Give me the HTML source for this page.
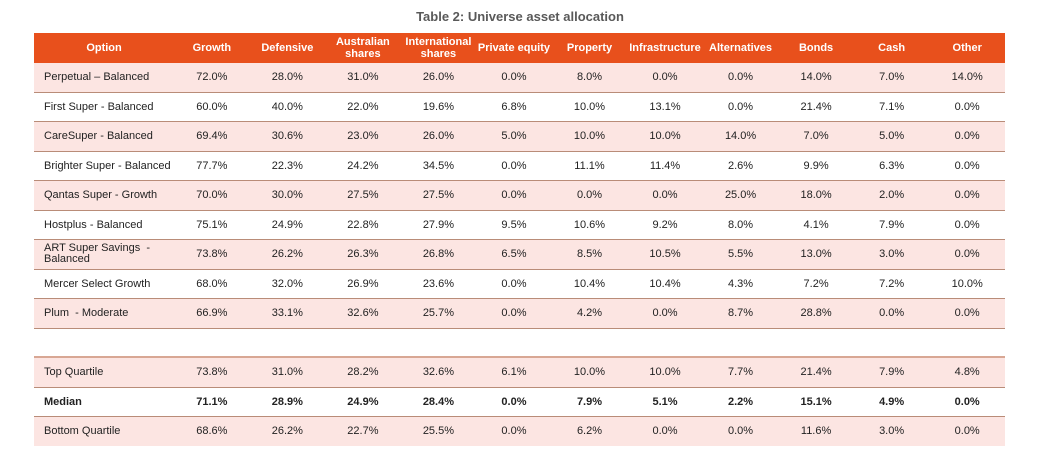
<!DOCTYPE html>
<html><head><style>
body{margin:0;width:1040px;height:463px;background:#fff;font-family:"Liberation Sans",Arial,sans-serif;position:relative;overflow:hidden}
.title{position:absolute;top:9px;left:0;width:1040px;text-align:center;font-size:13px;font-weight:bold;color:#595959}
table{position:absolute;left:34px;border-collapse:collapse;table-layout:fixed;width:971px;font-size:11px;color:#222}
td,th{text-align:center;padding:0;height:28.5px;}
td:first-child{text-align:left;padding-left:10px}
th{background:#e8501c;color:#fff;font-weight:bold;height:30px;line-height:12px;font-size:11px}
tr.p td{background:#fce5e2}
tr.b td{border-bottom:1px solid #b98c78}
tr.bt td{border-top:2px solid #d8a794}
tr.m td{font-weight:bold}
</style></head><body>
<div class="title">Table 2: Universe asset allocation</div>
<table style="top:33px">
<colgroup><col style="width:140px"><col span="11" style="width:75.5px"></colgroup>
<tr><th style="text-align:center">Option</th><th>Growth</th><th>Defensive</th><th>Australian<br>shares</th><th>International<br>shares</th><th>Private equity</th><th>Property</th><th>Infrastructure</th><th>Alternatives</th><th>Bonds</th><th>Cash</th><th>Other</th></tr>
<tr class="p b"><td>Perpetual – Balanced</td><td>72.0%</td><td>28.0%</td><td>31.0%</td><td>26.0%</td><td>0.0%</td><td>8.0%</td><td>0.0%</td><td>0.0%</td><td>14.0%</td><td>7.0%</td><td>14.0%</td></tr>
<tr class="b"><td>First Super - Balanced</td><td>60.0%</td><td>40.0%</td><td>22.0%</td><td>19.6%</td><td>6.8%</td><td>10.0%</td><td>13.1%</td><td>0.0%</td><td>21.4%</td><td>7.1%</td><td>0.0%</td></tr>
<tr class="p b"><td>CareSuper - Balanced</td><td>69.4%</td><td>30.6%</td><td>23.0%</td><td>26.0%</td><td>5.0%</td><td>10.0%</td><td>10.0%</td><td>14.0%</td><td>7.0%</td><td>5.0%</td><td>0.0%</td></tr>
<tr class="b"><td>Brighter Super - Balanced</td><td>77.7%</td><td>22.3%</td><td>24.2%</td><td>34.5%</td><td>0.0%</td><td>11.1%</td><td>11.4%</td><td>2.6%</td><td>9.9%</td><td>6.3%</td><td>0.0%</td></tr>
<tr class="p b"><td>Qantas Super - Growth</td><td>70.0%</td><td>30.0%</td><td>27.5%</td><td>27.5%</td><td>0.0%</td><td>0.0%</td><td>0.0%</td><td>25.0%</td><td>18.0%</td><td>2.0%</td><td>0.0%</td></tr>
<tr class="b"><td>Hostplus - Balanced</td><td>75.1%</td><td>24.9%</td><td>22.8%</td><td>27.9%</td><td>9.5%</td><td>10.6%</td><td>9.2%</td><td>8.0%</td><td>4.1%</td><td>7.9%</td><td>0.0%</td></tr>
<tr class="p b"><td style="line-height:11px">ART Super Savings&nbsp; -<br>Balanced</td><td>73.8%</td><td>26.2%</td><td>26.3%</td><td>26.8%</td><td>6.5%</td><td>8.5%</td><td>10.5%</td><td>5.5%</td><td>13.0%</td><td>3.0%</td><td>0.0%</td></tr>
<tr class="b"><td>Mercer Select Growth</td><td>68.0%</td><td>32.0%</td><td>26.9%</td><td>23.6%</td><td>0.0%</td><td>10.4%</td><td>10.4%</td><td>4.3%</td><td>7.2%</td><td>7.2%</td><td>10.0%</td></tr>
<tr class="p b"><td>Plum&nbsp; - Moderate</td><td>66.9%</td><td>33.1%</td><td>32.6%</td><td>25.7%</td><td>0.0%</td><td>4.2%</td><td>0.0%</td><td>8.7%</td><td>28.8%</td><td>0.0%</td><td>0.0%</td></tr>
</table>
<table style="top:356px">
<colgroup><col style="width:140px"><col span="11" style="width:75.5px"></colgroup>
<tr class="p b bt"><td>Top Quartile</td><td>73.8%</td><td>31.0%</td><td>28.2%</td><td>32.6%</td><td>6.1%</td><td>10.0%</td><td>10.0%</td><td>7.7%</td><td>21.4%</td><td>7.9%</td><td>4.8%</td></tr>
<tr class="m b"><td>Median</td><td>71.1%</td><td>28.9%</td><td>24.9%</td><td>28.4%</td><td>0.0%</td><td>7.9%</td><td>5.1%</td><td>2.2%</td><td>15.1%</td><td>4.9%</td><td>0.0%</td></tr>
<tr class="p"><td>Bottom Quartile</td><td>68.6%</td><td>26.2%</td><td>22.7%</td><td>25.5%</td><td>0.0%</td><td>6.2%</td><td>0.0%</td><td>0.0%</td><td>11.6%</td><td>3.0%</td><td>0.0%</td></tr>
</table>
</body></html>
